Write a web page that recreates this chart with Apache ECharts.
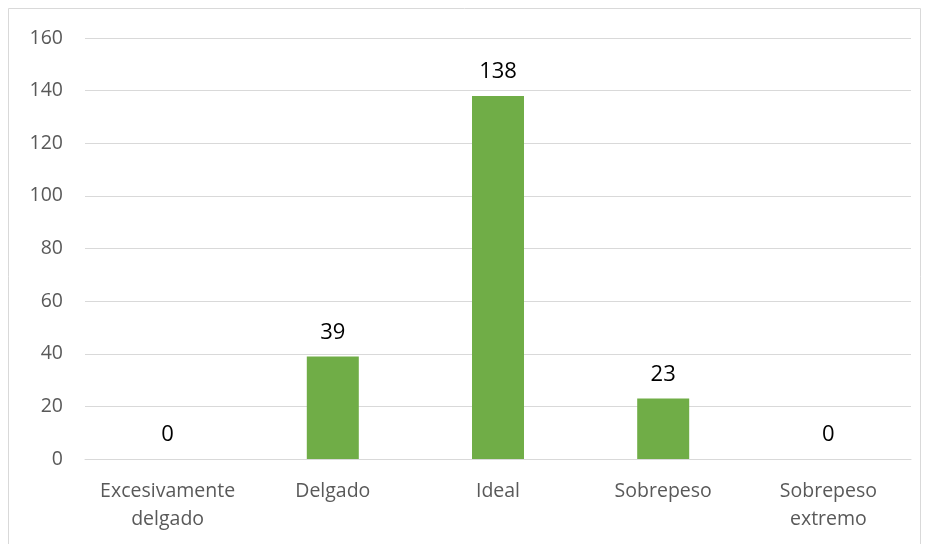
<!DOCTYPE html>
<html>
<head>
<meta charset="utf-8">
<script src="https://cdn.jsdelivr.net/npm/echarts@6/dist/echarts.min.js"></script>
<style>
  html, body { margin: 0; padding: 0; background: #fff; }
  #chart { width: 926px; height: 544px; }
</style>
</head>
<body>
<div id="chart"></div>
<script>
// categorías y valores
var categories = ["Excesivamente\ndelgado", "Delgado", "Ideal", "Sobrepeso", "Sobrepeso\nextremo"];
var values = [0, 39, 138, 23, 0];
var yTicks = [0, 20, 40, 60, 80, 100, 120, 140, 160];

var myChart = echarts.init(document.getElementById("chart"));
var fontFam = "'Open Sans', 'Liberation Sans', sans-serif";

var option = {
  backgroundColor: "#fff",
  animation: false,
  graphic: [
    {
      type: "rect",
      shape: { x: 8.5, y: 8.5, width: 912, height: 560 },
      style: { fill: "none", stroke: "#D9D9D9", lineWidth: 1 },
      silent: true
    }
  ],
  grid: {
    left: 85,
    right: 15,
    top: 38,
    bottom: 85
  },
  xAxis: {
    type: "category",
    data: categories,
    axisLine: { show: true, lineStyle: { color: "#D9D9D9", width: 1 } },
    axisTick: { show: false },
    axisLabel: {
      color: "#595959",
      fontSize: 19.5,
      fontFamily: fontFam,
      lineHeight: 28,
      margin: 18,
      interval: 0
    }
  },
  yAxis: {
    type: "value",
    min: yTicks[0],
    max: yTicks[yTicks.length - 1],
    interval: 20,
    axisLine: { show: false },
    axisTick: { show: false },
    splitLine: { lineStyle: { color: "#D9D9D9", width: 1 } },
    axisLabel: {
      color: "#595959",
      fontSize: 19.5,
      fontFamily: fontFam,
      margin: 22
    }
  },
  series: [
    {
      type: "bar",
      data: values,
      barWidth: 52,
      itemStyle: { color: "#70AD47" },
      label: {
        show: true,
        position: "top",
        distance: 13,
        color: "#000",
        fontSize: 22,
        fontFamily: fontFam
      }
    }
  ]
};

myChart.setOption(option);
</script>
</body>
</html>
